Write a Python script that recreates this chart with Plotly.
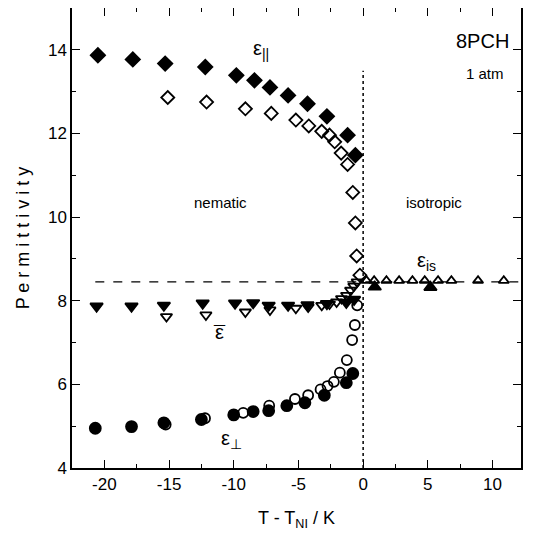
import plotly.graph_objects as go

# ---- data ----
T_par_filled = [-20.5, -17.8, -15.3, -12.2, -9.8, -8.4, -7.2, -5.8, -4.3, -2.8, -1.2, -0.6]
eps_par_filled = [13.87, 13.77, 13.67, 13.59, 13.39, 13.27, 13.10, 12.91, 12.71, 12.41, 11.96, 11.48]

T_par_open = [-15.1, -12.1, -9.1, -7.1, -5.2, -4.2, -3.2, -2.6, -2.2, -1.7, -1.2, -0.8, -0.6, -0.5, -0.25]
eps_par_open = [12.86, 12.75, 12.59, 12.48, 12.32, 12.18, 12.05, 11.96, 11.80, 11.53, 11.26, 10.59, 9.86, 9.07, 8.61]

T_mean_filled = [-20.6, -17.9, -15.4, -12.4, -9.9, -8.5, -7.3, -5.8, -4.3, -2.8, -1.3, -0.7]
eps_mean_filled = [7.87, 7.87, 7.89, 7.94, 7.94, 7.95, 7.89, 7.89, 7.90, 7.93, 7.96, 8.03]

T_mean_open = [-15.2, -12.15, -9.1, -7.2, -5.2, -4.25, -3.2, -2.6, -2.05, -1.67, -1.28, -0.97, -0.72, -0.46]
eps_mean_open = [7.62, 7.66, 7.73, 7.78, 7.82, 7.85, 7.89, 7.92, 7.97, 8.05, 8.13, 8.25, 8.35, 8.45]

T_perp_filled = [-20.7, -17.9, -15.4, -12.5, -10.0, -8.5, -7.3, -5.9, -4.5, -3.0, -1.3, -0.8]
eps_perp_filled = [4.95, 4.99, 5.08, 5.16, 5.27, 5.35, 5.37, 5.49, 5.56, 5.74, 6.04, 6.26]

T_perp_open = [-15.26, -12.22, -9.27, -7.26, -5.27, -4.25, -3.29, -2.75, -2.26, -1.8, -1.26, -0.85, -0.64, -0.46]
eps_perp_open = [5.04, 5.19, 5.32, 5.49, 5.65, 5.74, 5.88, 5.96, 6.06, 6.28, 6.58, 7.06, 7.42, 7.89]

T_iso_open = [0.26, 0.85, 1.8, 2.78, 3.81, 4.76, 5.79, 6.82, 8.88, 10.87]
eps_iso_open = [8.48, 8.48, 8.48, 8.48, 8.48, 8.48, 8.48, 8.48, 8.48, 8.48]

T_iso_filled = [0.9, 5.2]
eps_iso_filled = [8.33, 8.32]

eps_iso_level = 8.45
T_iso_line = [-20.7, 12.2]
T_NI = 0.0
eps_NI_line = [4.0, 13.5]

x_tickvals = [-20, -15, -10, -5, 0, 5, 10]
x_ticktext = ["-20", "-15", "-10", "-5", "0", "5", "10"]
y_tickvals = [4, 6, 8, 10, 12, 14]
y_ticktext = ["4", "6", "8", "10", "12", "14"]

FONT = "Liberation Sans, Arial, sans-serif"

fig = go.Figure()

# reference lines
fig.add_trace(go.Scatter(x=T_iso_line, y=[eps_iso_level] * 2, mode="lines",
                         line=dict(color="black", width=1.2, dash="dash"), showlegend=False))
fig.add_trace(go.Scatter(x=[T_NI, T_NI], y=eps_NI_line, mode="lines",
                         line=dict(color="black", width=1.5, dash="dot"), showlegend=False))

def add(x, y, symbol, size):
    fig.add_trace(go.Scatter(
        x=x, y=y, mode="markers", showlegend=False,
        marker=dict(symbol=symbol, size=size, color="black",
                    line=dict(color="black", width=1.8)),
    ))

add(T_par_open, eps_par_open, "diamond-open", 10)
add(T_par_filled, eps_par_filled, "diamond", 11)
add(T_mean_open, eps_mean_open, "triangle-down-open", 10)
add(T_mean_filled, eps_mean_filled, "triangle-down", 11)
add(T_perp_open, eps_perp_open, "circle-open", 10)
add(T_perp_filled, eps_perp_filled, "circle", 11)
add(T_iso_open, eps_iso_open, "triangle-up-open", 9)
add(T_iso_filled, eps_iso_filled, "triangle-up", 11)

annotations = [
    dict(x=-7.9, y=14.0, text="ε<sub>||</sub>", size=20),
    dict(x=9.2, y=14.22, text="8PCH", size=20),
    dict(x=9.4, y=13.44, text="1 atm", size=15),
    dict(x=-11.0, y=10.34, text="nematic", size=15),
    dict(x=5.5, y=10.34, text="isotropic", size=15),
    dict(x=4.9, y=8.95, text="ε<sub>is</sub>", size=20),
    dict(x=-11.1, y=7.25, text="ε", size=20),
    dict(x=-11.1, y=7.22, text="\u00af", size=20),
    dict(x=-10.2, y=4.68, text="ε<sub>⊥</sub>", size=20),
]
for a in annotations:
    fig.add_annotation(x=a["x"], y=a["y"], text=a["text"], showarrow=False,
                       font=dict(family=FONT, size=a["size"], color="black"))

axis_common = dict(
    showline=True, linecolor="black", linewidth=1.5, mirror="ticks",
    ticks="inside", ticklen=8, tickwidth=1.3, tickcolor="black",
    showgrid=False, zeroline=False, automargin=False,
    tickfont=dict(family=FONT, size=17, color="black"),
)

fig.update_xaxes(range=[-22.5, 12.2], tickvals=x_tickvals, ticktext=x_ticktext,
                 minor=dict(ticks="inside", dtick=2.5, tick0=0, ticklen=4, tickcolor="black", showgrid=False),
                 title=dict(text="T - T<sub>NI</sub> / K", font=dict(family=FONT, size=18, color="black"), standoff=18),
                 **axis_common)
fig.update_yaxes(range=[4, 15], tickvals=y_tickvals, ticktext=y_ticktext,
                 minor=dict(ticks="inside", dtick=1, tick0=0, ticklen=4, tickcolor="black", showgrid=False),
                 title=dict(text="P e r m i t t i v i t y", font=dict(family=FONT, size=18, color="black"), standoff=14),
                 **axis_common)

# page body has an 8 px default margin, so the figure is sized/offset to compensate
fig.update_layout(width=534, height=529, margin=dict(l=64, r=21, t=0, b=69),
                  plot_bgcolor="white", paper_bgcolor="white", font=dict(family=FONT))

fig.write_html("out.html")
